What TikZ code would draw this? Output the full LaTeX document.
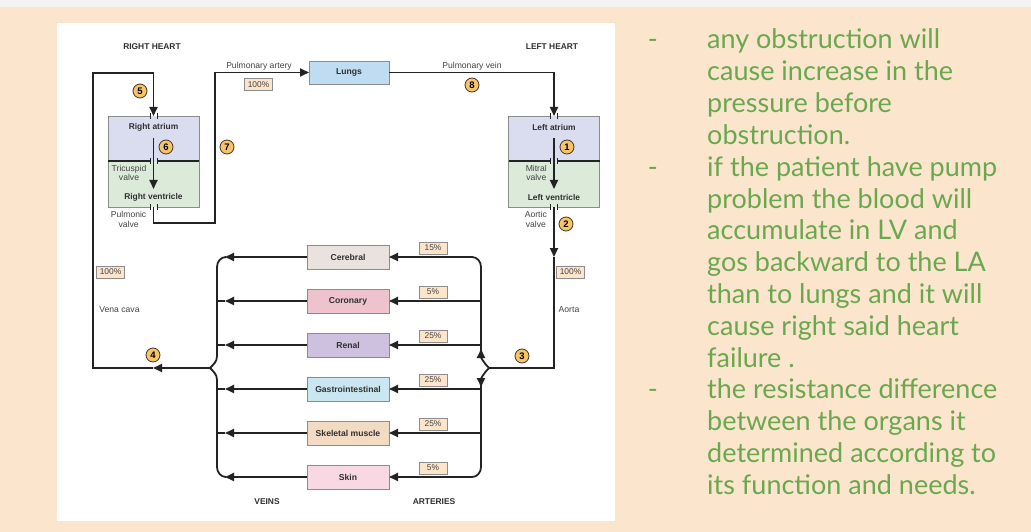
\documentclass[tikz,border=0pt]{standalone}
\usepackage{fontspec}
\setmainfont{Liberation Sans}
\newfontfamily\notefont{Lato}
\usetikzlibrary{positioning,arrows.meta}

\definecolor{peach}{HTML}{FCE5CD}
\definecolor{stripgray}{HTML}{F3F3F3}
\definecolor{notegreen}{HTML}{6AA84F}
\definecolor{vesselc}{HTML}{232323}
\definecolor{wallgray}{HTML}{8C8C8C}
\definecolor{atriumfill}{HTML}{DADCEF}
\definecolor{ventfill}{HTML}{DCEADA}
\definecolor{lungfill}{HTML}{BEDCF2}
\definecolor{cerfill}{HTML}{E9E2DE}
\definecolor{corfill}{HTML}{EEC3CD}
\definecolor{renfill}{HTML}{CEC1E0}
\definecolor{gasfill}{HTML}{C9E6F1}
\definecolor{skefill}{HTML}{F3DAC2}
\definecolor{skinfill}{HTML}{F8D8E3}
\definecolor{pctfill}{HTML}{FCE5CB}
\definecolor{numfill}{HTML}{F8C46A}
\definecolor{lblgray}{HTML}{444444}

\begin{document}
\begin{tikzpicture}[
    x=1pt, y=-1pt,
    vessel/.style={draw=vesselc, line width=1.8pt},
    arr/.style={-{Triangle[length=9pt,width=8pt]}},
    wall/.style={draw=wallgray, line width=0.7pt},
    septum/.style={draw=vesselc, line width=1.6pt},
    valvetick/.style={draw=vesselc, line width=1pt},
    chamber/.style={minimum width=91pt, inner sep=0pt, outer sep=0pt},
    organ/.style={draw=wallgray, line width=0.6pt, minimum width=82pt, minimum height=24pt, inner sep=0pt, outer sep=0pt, font=\fontsize{8.6}{10}\selectfont\bfseries, text=lblgray!70!black},
    pct/.style={draw=wallgray, fill=pctfill, line width=0.5pt, minimum width=28pt, minimum height=11.5pt, inner sep=0pt, font=\fontsize{8.4}{9}\selectfont, text=lblgray},
    num/.style={circle, draw=vesselc!80!brown, fill=numfill, line width=0.8pt, minimum size=14pt, inner sep=0pt, font=\fontsize{9.5}{10}\selectfont\bfseries},
    lbl/.style={inner sep=0pt, font=\fontsize{8.6}{9.5}\selectfont, text=lblgray, align=center},
    head/.style={inner sep=0pt, font=\fontsize{8.4}{10}\selectfont\bfseries, text=lblgray!70!black},
    note/.style={inner sep=0pt, font=\notefont\fontsize{27}{30}\selectfont, text=notegreen}
]
% slide background
\useasboundingbox (0,0) rectangle (1031,532);
\fill[stripgray] (0,0) rectangle (1031,7);
\fill[peach] (0,7) rectangle (1031,532);
\fill[white] (57,23) rectangle (615,521);

% heart chambers
\foreach \s/\x/\sidename/\valvein/\valveout in {r/153.5/Right/Tricuspid/Pulmonic, l/554/Left/Mitral/Aortic}{
  \node[chamber, fill=atriumfill, minimum height=45pt] (\s a) at (\x,138.5) {};
  \node[chamber, fill=ventfill, minimum height=46pt, below=0pt of \s a] (\s v) {};
  \draw[wall] ([xshift=3.5pt]\s a.north) -| (\s v.south east) -- ([xshift=3.5pt]\s v.south);
  \draw[wall] ([xshift=-3.5pt]\s v.south) -| (\s a.north west) -- ([xshift=-3.5pt]\s a.north);
  \draw[septum] (\s a.south west) -- ([xshift=-3.5pt]\s a.south) ([xshift=3.5pt]\s a.south) -- (\s a.south east);
  \foreach \p in {\s a.north, \s a.south, \s v.south}
    \draw[valvetick] ([xshift=-3.5pt,yshift=3pt]\p) -- ([xshift=-3.5pt,yshift=-3pt]\p)
                     ([xshift=3.5pt,yshift=3pt]\p) -- ([xshift=3.5pt,yshift=-3pt]\p);
  \node[head] (\s al) at ([yshift=-11pt]\s a.north) {\sidename\ atrium};
  \node[head] (\s vl) at ([yshift=10pt]\s v.south) {\sidename\ ventricle};
  \node[lbl, anchor=east] (\s il) at ([xshift=-7pt,yshift=-12pt]\s v.north) {\valvein\\valve};
  \node[lbl, anchor=east] (\s ol) at ([xshift=-7pt,yshift=-12.5pt]\s v.south) {\valveout\\valve};
  \draw[vessel, arr] ([yshift=-22pt]\s a.north) -- ([yshift=-28pt]\s v.north);
}

\node[head] (rh) at (152,47) {RIGHT HEART};
\node[head] (lh) at (552,47) {LEFT HEART};
\node[organ, fill=lungfill, minimum width=80pt, minimum height=23pt] (lungs) at (349,72.5) {Lungs};

% organs
\node[organ, fill=cerfill] (cer) at (348,257) {Cerebral};
\node[organ, fill=corfill, below=20pt of cer] (cor) {Coronary};
\node[organ, fill=renfill, below=20pt of cor] (ren) {Renal};
\node[organ, fill=gasfill, below=20pt of ren] (gas) {Gastrointestinal};
\node[organ, fill=skefill, below=20pt of gas] (ske) {Skeletal muscle};
\node[organ, fill=skinfill, below=20pt of ske] (skin) {Skin};
\foreach \o/\p in {cer/15, cor/5, ren/25, gas/25, ske/25, skin/5}
  \node[pct] (p\o) at ([xshift=85pt,yshift=9pt]\o.center) {\p\%};

\coordinate (vjoin) at (210,368);
\coordinate (ajoin) at (489,368);
\coordinate (vtrunk) at (217,0);
\coordinate (vtip) at (225,0);
\coordinate (atrunk) at (481,0);
\coordinate (pa) at (215,223);
\coordinate (vc) at (153,368);
\coordinate (vcl) at (93,73);
\coordinate (ao) at (554,257);

% pulmonary circuit
\draw[vessel, arr] (rv.south) |- (pa) |- (lungs.west);
\draw[vessel, arr] (lungs.east) -| (la.north);

% systemic circuit
\draw[vessel, arr] (lv.south) -- (ao);
\draw[vessel] (ao) |- (ajoin);
\draw[vessel, arr] (ajoin) to[out=135,in=-90] (481,349);
\draw[vessel, arr] (ajoin) to[out=-135,in=90] (481,387);
\draw[vessel, arr] (481,352) -- (481,267) to[out=90,in=0] (472,257) -- (cer.east);
\draw[vessel, arr] (481,384) -- (481,467) to[out=-90,in=0] (472,477) -- (skin.east);
\foreach \o in {cor, ren, gas, ske}
  \draw[vessel, arr] (\o.east -| atrunk) -- (\o.east);

\foreach \o in {cer, cor, ren, gas, ske, skin}
  \draw[vessel, arr] (\o.west) -- (\o.west -| vtip);
\foreach \o in {cor, ren, gas, ske}
  \draw[vessel] (\o.west -| vtip) -- (\o.west -| vtrunk);
\draw[vessel] (226,257) to[out=180,in=90] (217,267) -- (217,356) to[out=-90,in=45] (vjoin)
  to[out=-45,in=90] (217,380) -- (217,467) to[out=-90,in=180] (226,477);
\draw[vessel, arr] (vjoin) -- (vc);
\draw[vessel, arr] (vc) -| (vcl) -| (ra.north);

% labels
\node[lbl] (palbl) at (259,66) {Pulmonary artery};
\node[pct] (papct) at (258.5,84.5) {100\%};
\node[lbl] (pvlbl) at (472,66) {Pulmonary vein};
\node[pct] (vcpct) at (110.5,272) {100\%};
\node[lbl] (vclbl) at (119.5,310) {Vena cava};
\node[pct] (aopct) at (570.5,272) {100\%};
\node[lbl] (aolbl) at (569,310) {Aorta};
\node[head] (veins) at (267,502) {VEINS};
\node[head] (arts) at (434,502) {ARTERIES};

\node[num] (n1) at (567,147) {1};
\node[num] (n2) at (566,224) {2};
\node[num] (n3) at (522,356) {3};
\node[num] (n4) at (153,355) {4};
\node[num] (n5) at (140,91) {5};
\node[num] (n6) at (166,147) {6};
\node[num] (n7) at (227,147) {7};
\node[num] (n8) at (472,85) {8};

% notes
\foreach \t [count=\i] in {any obstruction will, cause increase in the, pressure before, obstruction.,
    if the patient have pump, problem the blood will, accumulate in LV and, gos backward to the LA,
    than to lungs and it will, cause right said heart, failure .,
    the resistance difference, between the organs it, determined according to, its function and needs.}
  \node[note, anchor=base west] (t\i) at (707,{49+31.8*(\i-1)}) {\t};
\foreach \i in {1,5,12}
  \node[note, anchor=base] (d\i) at (653,{49+31.8*(\i-1)}) {-};

\end{tikzpicture}
\end{document}
